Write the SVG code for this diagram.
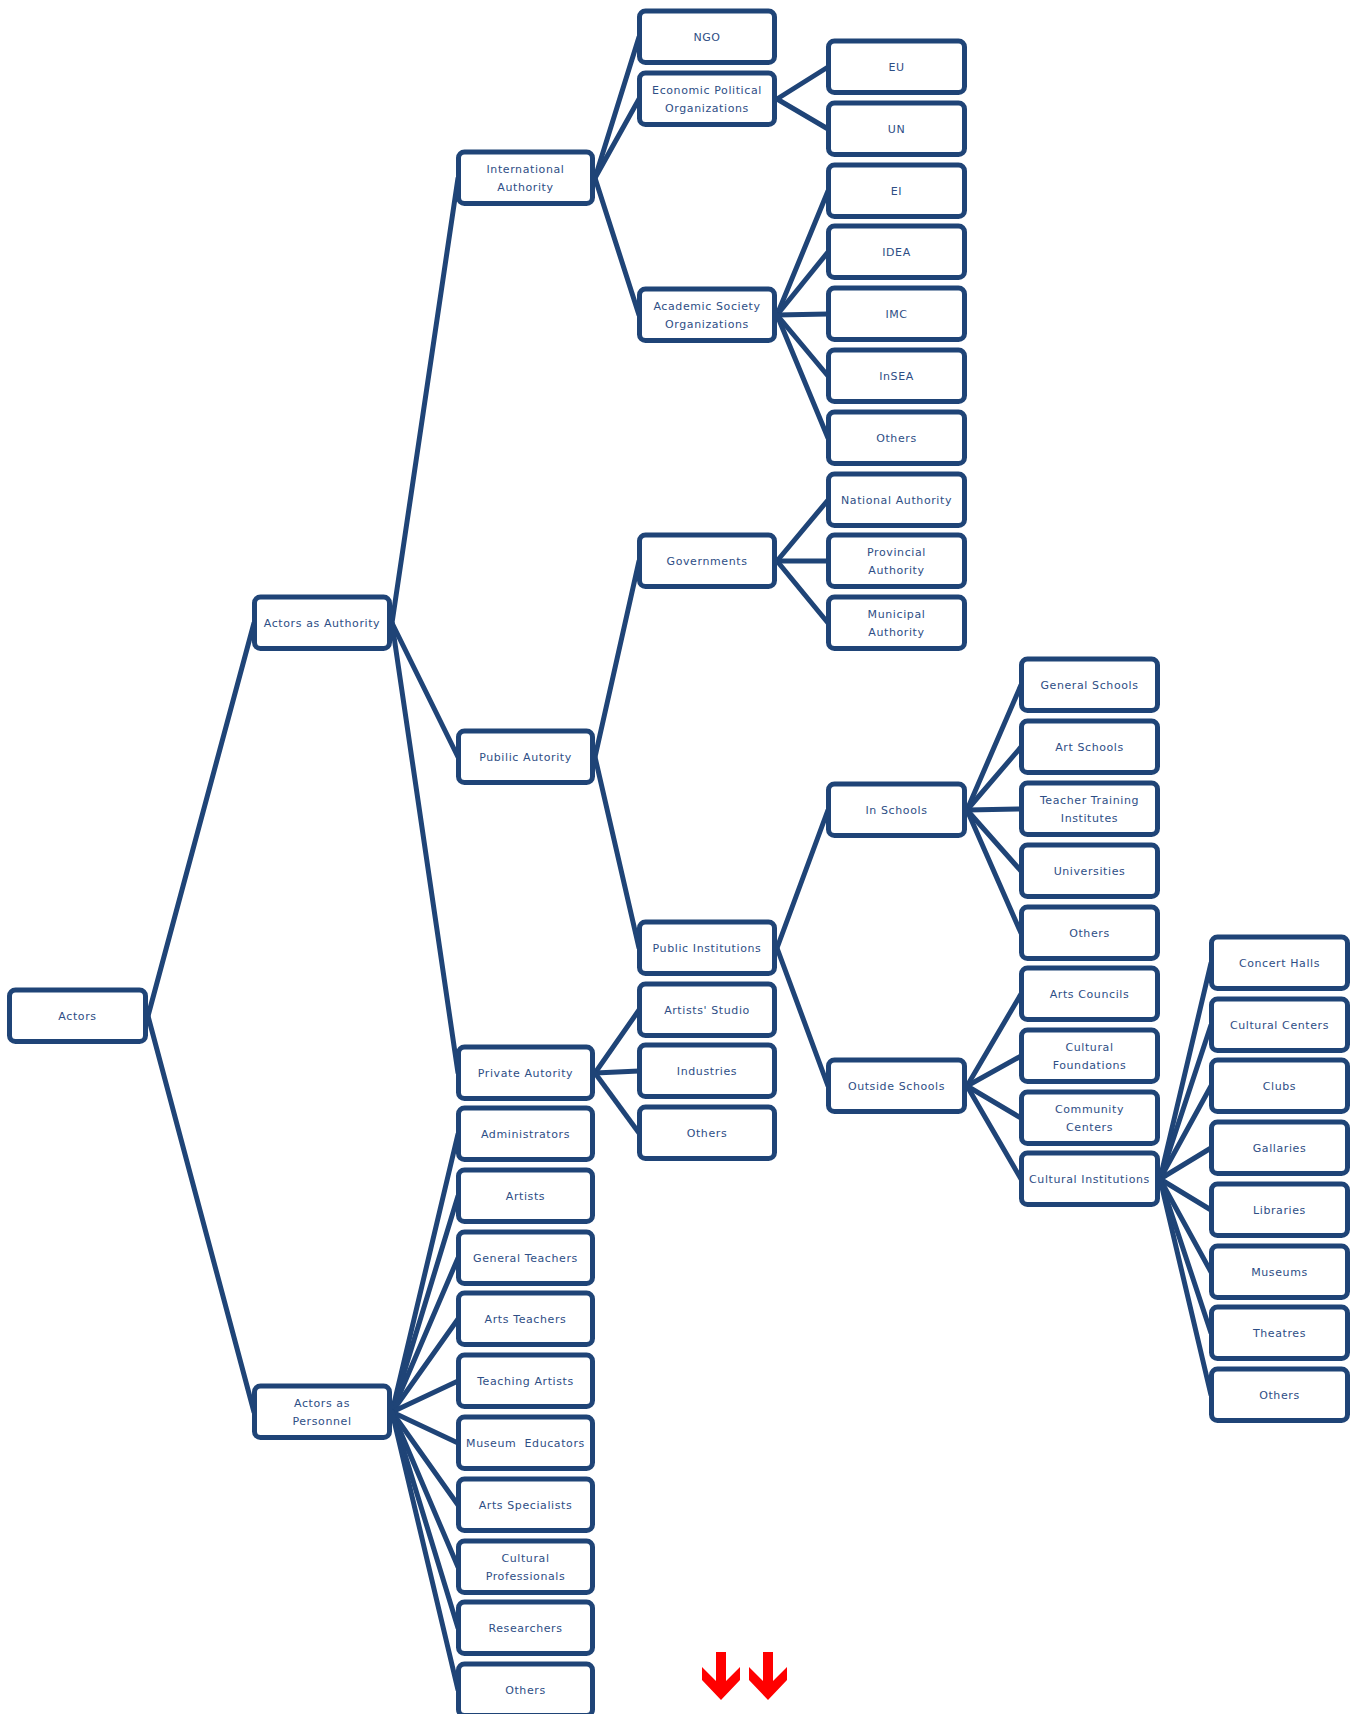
<svg xmlns="http://www.w3.org/2000/svg" width="1362" height="1714" viewBox="0 0 1362 1714">
<style>
.box{fill:#fff;stroke:#1F4477;stroke-width:5}
.lbl{font-family:"DejaVu Sans",Verdana,sans-serif;font-size:11px;fill:#2E4E85;text-anchor:middle;letter-spacing:0.6px}
.con line{stroke:#1F4477;stroke-width:5;stroke-linecap:round}
.arrow{fill:#FF0000}
</style>
<rect width="1362" height="1714" fill="#fff"/>
<g class="con" id="connectors">
<line x1="148" y1="1016" x2="254" y2="623"/>
<line x1="148" y1="1016" x2="254" y2="1412"/>
<line x1="392" y1="623" x2="458" y2="178"/>
<line x1="392" y1="623" x2="458" y2="757"/>
<line x1="392" y1="623" x2="458" y2="1073"/>
<line x1="392" y1="1412" x2="458" y2="1134"/>
<line x1="392" y1="1412" x2="458" y2="1196"/>
<line x1="392" y1="1412" x2="458" y2="1258"/>
<line x1="392" y1="1412" x2="458" y2="1319"/>
<line x1="392" y1="1412" x2="458" y2="1381"/>
<line x1="392" y1="1412" x2="458" y2="1443"/>
<line x1="392" y1="1412" x2="458" y2="1505"/>
<line x1="392" y1="1412" x2="458" y2="1567"/>
<line x1="392" y1="1412" x2="458" y2="1628"/>
<line x1="392" y1="1412" x2="458" y2="1690"/>
<line x1="595" y1="178" x2="639" y2="37"/>
<line x1="595" y1="178" x2="639" y2="99"/>
<line x1="595" y1="178" x2="639" y2="315"/>
<line x1="777" y1="99" x2="828" y2="67"/>
<line x1="777" y1="99" x2="828" y2="129"/>
<line x1="777" y1="315" x2="828" y2="191"/>
<line x1="777" y1="315" x2="828" y2="252"/>
<line x1="777" y1="315" x2="828" y2="314"/>
<line x1="777" y1="315" x2="828" y2="376"/>
<line x1="777" y1="315" x2="828" y2="438"/>
<line x1="595" y1="757" x2="639" y2="561"/>
<line x1="595" y1="757" x2="639" y2="948"/>
<line x1="777" y1="561" x2="828" y2="500"/>
<line x1="777" y1="561" x2="828" y2="561"/>
<line x1="777" y1="561" x2="828" y2="623"/>
<line x1="595" y1="1073" x2="639" y2="1010"/>
<line x1="595" y1="1073" x2="639" y2="1071"/>
<line x1="595" y1="1073" x2="639" y2="1133"/>
<line x1="777" y1="948" x2="828" y2="810"/>
<line x1="777" y1="948" x2="828" y2="1086"/>
<line x1="967" y1="810" x2="1021" y2="685"/>
<line x1="967" y1="810" x2="1021" y2="747"/>
<line x1="967" y1="810" x2="1021" y2="809"/>
<line x1="967" y1="810" x2="1021" y2="871"/>
<line x1="967" y1="810" x2="1021" y2="933"/>
<line x1="967" y1="1086" x2="1021" y2="994"/>
<line x1="967" y1="1086" x2="1021" y2="1056"/>
<line x1="967" y1="1086" x2="1021" y2="1118"/>
<line x1="967" y1="1086" x2="1021" y2="1179"/>
<line x1="1160" y1="1179" x2="1211" y2="963"/>
<line x1="1160" y1="1179" x2="1211" y2="1025"/>
<line x1="1160" y1="1179" x2="1211" y2="1086"/>
<line x1="1160" y1="1179" x2="1211" y2="1148"/>
<line x1="1160" y1="1179" x2="1211" y2="1210"/>
<line x1="1160" y1="1179" x2="1211" y2="1272"/>
<line x1="1160" y1="1179" x2="1211" y2="1333"/>
<line x1="1160" y1="1179" x2="1211" y2="1395"/>
</g>

<g id="actors"><rect class="box" x="9.5" y="990" width="136" height="51.5" rx="6"/><text class="lbl" x="77.5" y="1020">Actors</text></g>

<g id="actors-authority"><rect class="box" x="254.5" y="597" width="135" height="51.5" rx="6"/><text class="lbl" x="322" y="627">Actors as Authority</text></g>
<g id="actors-personnel"><rect class="box" x="254.5" y="1386" width="135" height="51.5" rx="6"/><text class="lbl" x="322" y="1407">Actors as</text><text class="lbl" x="322" y="1425">Personnel</text></g>

<g id="international-authority"><rect class="box" x="458.5" y="152" width="134" height="51.5" rx="6"/><text class="lbl" x="525.5" y="173">International</text><text class="lbl" x="525.5" y="191">Authority</text></g>
<g id="public-autority"><rect class="box" x="458.5" y="731" width="134" height="51.5" rx="6"/><text class="lbl" x="525.5" y="761">Pubilic Autority</text></g>
<g id="private-autority"><rect class="box" x="458.5" y="1047" width="134" height="51.5" rx="6"/><text class="lbl" x="525.5" y="1077">Private Autority</text></g>
<g id="administrators"><rect class="box" x="458.5" y="1108" width="134" height="51.5" rx="6"/><text class="lbl" x="525.5" y="1138">Administrators</text></g>
<g id="artists"><rect class="box" x="458.5" y="1170" width="134" height="51.5" rx="6"/><text class="lbl" x="525.5" y="1200">Artists</text></g>
<g id="general-teachers"><rect class="box" x="458.5" y="1232" width="134" height="51.5" rx="6"/><text class="lbl" x="525.5" y="1262">General Teachers</text></g>
<g id="arts-teachers"><rect class="box" x="458.5" y="1293" width="134" height="51.5" rx="6"/><text class="lbl" x="525.5" y="1323">Arts Teachers</text></g>
<g id="teaching-artists"><rect class="box" x="458.5" y="1355" width="134" height="51.5" rx="6"/><text class="lbl" x="525.5" y="1385">Teaching Artists</text></g>
<g id="museum-educators"><rect class="box" x="458.5" y="1417" width="134" height="51.5" rx="6"/><text class="lbl" x="525.5" y="1447" xml:space="preserve">Museum  Educators</text></g>
<g id="arts-specialists"><rect class="box" x="458.5" y="1479" width="134" height="51.5" rx="6"/><text class="lbl" x="525.5" y="1509">Arts Specialists</text></g>
<g id="cultural-professionals"><rect class="box" x="458.5" y="1541" width="134" height="51.5" rx="6"/><text class="lbl" x="525.5" y="1562">Cultural</text><text class="lbl" x="525.5" y="1580">Professionals</text></g>
<g id="researchers"><rect class="box" x="458.5" y="1602" width="134" height="51.5" rx="6"/><text class="lbl" x="525.5" y="1632">Researchers</text></g>
<g id="personnel-others"><rect class="box" x="458.5" y="1664" width="134" height="51.5" rx="6"/><text class="lbl" x="525.5" y="1694">Others</text></g>

<g id="ngo"><rect class="box" x="639.5" y="11" width="135" height="51.5" rx="6"/><text class="lbl" x="707" y="41">NGO</text></g>
<g id="economic-political"><rect class="box" x="639.5" y="73" width="135" height="51.5" rx="6"/><text class="lbl" x="707" y="94">Economic Political</text><text class="lbl" x="707" y="112">Organizations</text></g>
<g id="academic-society"><rect class="box" x="639.5" y="289" width="135" height="51.5" rx="6"/><text class="lbl" x="707" y="310">Academic Society</text><text class="lbl" x="707" y="328">Organizations</text></g>
<g id="governments"><rect class="box" x="639.5" y="535" width="135" height="51.5" rx="6"/><text class="lbl" x="707" y="565">Governments</text></g>
<g id="public-institutions"><rect class="box" x="639.5" y="922" width="135" height="51.5" rx="6"/><text class="lbl" x="707" y="952">Public Institutions</text></g>
<g id="artists-studio"><rect class="box" x="639.5" y="984" width="135" height="51.5" rx="6"/><text class="lbl" x="707" y="1014">Artists' Studio</text></g>
<g id="industries"><rect class="box" x="639.5" y="1045" width="135" height="51.5" rx="6"/><text class="lbl" x="707" y="1075">Industries</text></g>
<g id="private-others"><rect class="box" x="639.5" y="1107" width="135" height="51.5" rx="6"/><text class="lbl" x="707" y="1137">Others</text></g>

<g id="eu"><rect class="box" x="828.5" y="41" width="136" height="51.5" rx="6"/><text class="lbl" x="896.5" y="71">EU</text></g>
<g id="un"><rect class="box" x="828.5" y="103" width="136" height="51.5" rx="6"/><text class="lbl" x="896.5" y="133">UN</text></g>
<g id="ei"><rect class="box" x="828.5" y="165" width="136" height="51.5" rx="6"/><text class="lbl" x="896.5" y="195">EI</text></g>
<g id="idea"><rect class="box" x="828.5" y="226" width="136" height="51.5" rx="6"/><text class="lbl" x="896.5" y="256">IDEA</text></g>
<g id="imc"><rect class="box" x="828.5" y="288" width="136" height="51.5" rx="6"/><text class="lbl" x="896.5" y="318">IMC</text></g>
<g id="insea"><rect class="box" x="828.5" y="350" width="136" height="51.5" rx="6"/><text class="lbl" x="896.5" y="380">InSEA</text></g>
<g id="academic-others"><rect class="box" x="828.5" y="412" width="136" height="51.5" rx="6"/><text class="lbl" x="896.5" y="442">Others</text></g>
<g id="national-authority"><rect class="box" x="828.5" y="474" width="136" height="51.5" rx="6"/><text class="lbl" x="896.5" y="504">National Authority</text></g>
<g id="provincial-authority"><rect class="box" x="828.5" y="535" width="136" height="51.5" rx="6"/><text class="lbl" x="896.5" y="556">Provincial</text><text class="lbl" x="896.5" y="574">Authority</text></g>
<g id="municipal-authority"><rect class="box" x="828.5" y="597" width="136" height="51.5" rx="6"/><text class="lbl" x="896.5" y="618">Municipal</text><text class="lbl" x="896.5" y="636">Authority</text></g>
<g id="in-schools"><rect class="box" x="828.5" y="784" width="136" height="51.5" rx="6"/><text class="lbl" x="896.5" y="814">In Schools</text></g>
<g id="outside-schools"><rect class="box" x="828.5" y="1060" width="136" height="51.5" rx="6"/><text class="lbl" x="896.5" y="1090">Outside Schools</text></g>

<g id="general-schools"><rect class="box" x="1021.5" y="659" width="136" height="51.5" rx="6"/><text class="lbl" x="1089.5" y="689">General Schools</text></g>
<g id="art-schools"><rect class="box" x="1021.5" y="721" width="136" height="51.5" rx="6"/><text class="lbl" x="1089.5" y="751">Art Schools</text></g>
<g id="teacher-training"><rect class="box" x="1021.5" y="783" width="136" height="51.5" rx="6"/><text class="lbl" x="1089.5" y="804">Teacher Training</text><text class="lbl" x="1089.5" y="822">Institutes</text></g>
<g id="universities"><rect class="box" x="1021.5" y="845" width="136" height="51.5" rx="6"/><text class="lbl" x="1089.5" y="875">Universities</text></g>
<g id="schools-others"><rect class="box" x="1021.5" y="907" width="136" height="51.5" rx="6"/><text class="lbl" x="1089.5" y="937">Others</text></g>
<g id="arts-councils"><rect class="box" x="1021.5" y="968" width="136" height="51.5" rx="6"/><text class="lbl" x="1089.5" y="998">Arts Councils</text></g>
<g id="cultural-foundations"><rect class="box" x="1021.5" y="1030" width="136" height="51.5" rx="6"/><text class="lbl" x="1089.5" y="1051">Cultural</text><text class="lbl" x="1089.5" y="1069">Foundations</text></g>
<g id="community-centers"><rect class="box" x="1021.5" y="1092" width="136" height="51.5" rx="6"/><text class="lbl" x="1089.5" y="1113">Community</text><text class="lbl" x="1089.5" y="1131">Centers</text></g>
<g id="cultural-institutions"><rect class="box" x="1021.5" y="1153" width="136" height="51.5" rx="6"/><text class="lbl" x="1089.5" y="1183">Cultural Institutions</text></g>

<g id="concert-halls"><rect class="box" x="1211.5" y="937" width="136" height="51.5" rx="6"/><text class="lbl" x="1279.5" y="967">Concert Halls</text></g>
<g id="cultural-centers"><rect class="box" x="1211.5" y="999" width="136" height="51.5" rx="6"/><text class="lbl" x="1279.5" y="1029">Cultural Centers</text></g>
<g id="clubs"><rect class="box" x="1211.5" y="1060" width="136" height="51.5" rx="6"/><text class="lbl" x="1279.5" y="1090">Clubs</text></g>
<g id="gallaries"><rect class="box" x="1211.5" y="1122" width="136" height="51.5" rx="6"/><text class="lbl" x="1279.5" y="1152">Gallaries</text></g>
<g id="libraries"><rect class="box" x="1211.5" y="1184" width="136" height="51.5" rx="6"/><text class="lbl" x="1279.5" y="1214">Libraries</text></g>
<g id="museums"><rect class="box" x="1211.5" y="1246" width="136" height="51.5" rx="6"/><text class="lbl" x="1279.5" y="1276">Museums</text></g>
<g id="theatres"><rect class="box" x="1211.5" y="1307" width="136" height="51.5" rx="6"/><text class="lbl" x="1279.5" y="1337">Theatres</text></g>
<g id="institutions-others"><rect class="box" x="1211.5" y="1369" width="136" height="51.5" rx="6"/><text class="lbl" x="1279.5" y="1399">Others</text></g>

<g id="more-arrows">
<polygon class="arrow" points="716,1652 726,1652 726,1681 740,1667 740,1680 721,1700 702,1680 702,1667 716,1681"/>
<polygon class="arrow" points="763,1652 773,1652 773,1681 787,1667 787,1680 768,1700 749,1680 749,1667 763,1681"/>
</g>
</svg>
